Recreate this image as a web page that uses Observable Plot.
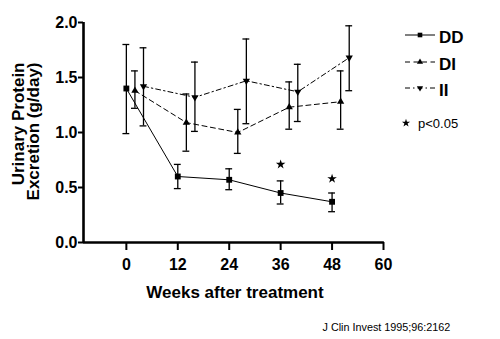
<!DOCTYPE html>
<html><head><meta charset="utf-8">
<script src="https://cdn.jsdelivr.net/npm/d3@7"></script>
<script src="https://cdn.jsdelivr.net/npm/@observablehq/plot@0.6"></script>
<style>
html,body{margin:0;padding:0;background:#fff;}
#chart svg{display:block;}
</style></head><body><div id="chart"></div>
<script>
// ---- data ----
const weeks = [0, 12, 24, 36, 48];
const ddMean = [1.40, 0.60, 0.57, 0.45, 0.37];
const ddLow  = [0.99, 0.49, 0.48, 0.35, 0.28];
const ddHigh = [1.80, 0.71, 0.67, 0.56, 0.45];
const diMean = [1.38, 1.09, 1.00, 1.23, 1.28];
const diLow  = [1.22, 0.83, 0.81, 1.03, 1.03];
const diHigh = [1.56, 1.35, 1.21, 1.46, 1.56];
const iiMean = [1.42, 1.32, 1.47, 1.37, 1.68];
const iiLow  = [1.06, 1.01, 1.08, 1.10, 1.38];
const iiHigh = [1.77, 1.64, 1.85, 1.62, 1.97];
const starWeeks = [36, 48];
const starValues = [0.71, 0.58];
const seriesNames = ["DD", "DI", "II"];
const sigLabel = "p<0.05";
const xTicks = [0, 12, 24, 36, 48, 60];
const yTicks = [0, 0.5, 1.0, 1.5, 2.0];
const xTitle = "Weeks after treatment";
const yTitle = "Urinary Protein\nExcretion (g/day)";
const caption = "J Clin Invest 1995;96:2162";

// ---- styling ----
const FONT = "'Liberation Sans', Arial, Helvetica, sans-serif";
const triDown = {
  draw(ctx, size) {
    const s3 = Math.sqrt(3);
    const y = -Math.sqrt(size / (s3 * 3));
    ctx.moveTo(0, -y * 2);
    ctx.lineTo(-s3 * y, y);
    ctx.lineTo(s3 * y, y);
    ctx.closePath();
  }
};
const style = {
  DD: {offset: 0, dash: null, symbol: "square", r: 3.3, lr: 2.6},
  DI: {offset: 2, dash: "5,3.5", symbol: "triangle", r: 2.7, lr: 2.3},
  II: {offset: 4, dash: "5,3,1.5,3", symbol: triDown, r: 2.7, lr: 2.3}
};
const sources = {
  DD: [ddMean, ddLow, ddHigh],
  DI: [diMean, diLow, diHigh],
  II: [iiMean, iiLow, iiHigh]
};
const rows = seriesNames.flatMap(name => {
  const [m, lo, hi] = sources[name];
  return weeks.map((w, i) => ({series: name, week: w + style[name].offset, mean: m[i], lo: lo[i], hi: hi[i]}));
});
const stars = starWeeks.map((w, i) => ({week: w, value: starValues[i]}));
const capHalf = 0.8;

const marks = [];
// error bars
marks.push(Plot.ruleX(rows, {x: "week", y1: "lo", y2: "hi", stroke: "black", strokeWidth: 1.3}));
marks.push(Plot.ruleY(rows, {y: "lo", x1: d => d.week - capHalf, x2: d => d.week + capHalf, stroke: "black", strokeWidth: 1.3}));
marks.push(Plot.ruleY(rows, {y: "hi", x1: d => d.week - capHalf, x2: d => d.week + capHalf, stroke: "black", strokeWidth: 1.3}));
// lines + markers
for (const name of seriesNames) {
  const data = rows.filter(d => d.series === name);
  marks.push(Plot.line(data, {x: "week", y: "mean", stroke: "black", strokeWidth: 1, strokeDasharray: style[name].dash}));
  marks.push(Plot.dot(data, {x: "week", y: "mean", symbol: () => style[name].symbol, r: style[name].r, fill: "black", stroke: "none"}));
}
// significance stars
marks.push(Plot.dot(stars, {x: "week", y: "value", symbol: () => "star", r: 3, fill: "black", stroke: "none"}));
// axes
marks.push(Plot.axisX({ticks: xTicks, tickSize: 8, tickPadding: 8.5, strokeWidth: 2, fontSize: 16, fontWeight: "bold", label: null}));
marks.push(Plot.axisY({ticks: yTicks, tickFormat: d3.format(".1f"), tickSize: 5, tickPadding: 1, strokeWidth: 2, fontSize: 16, fontWeight: "bold", label: null}));
marks.push(Plot.ruleX([-10], {y1: 0, y2: 2, stroke: "black", strokeWidth: 2.6}));
marks.push(Plot.ruleY([0], {x1: -10, x2: 60.2, stroke: "black", strokeWidth: 2.6}));
// titles
marks.push(Plot.text([xTitle], {frameAnchor: "bottom", lineAnchor: "bottom", dx: 1.5, dy: 55, fontSize: 17, fontWeight: "bold", fill: "black"}));
marks.push(Plot.text([yTitle], {frameAnchor: "left", rotate: -90, textAnchor: "end", lineAnchor: "middle", lineHeight: 0.92, dx: -57, dy: -70, fontSize: 17, fontWeight: "bold", fill: "black"}));
marks.push(Plot.text([caption], {frameAnchor: "bottom-left", textAnchor: "start", lineAnchor: "bottom", dx: 239, dy: 88, fontSize: 10.8, fill: "black"}));
// legend
marks.push((index, scales, values, dimensions, context) => {
  const g = d3.create("svg:g").attr("font-family", FONT).attr("text-anchor", "start");
  const ys = [35, 62, 88];
  seriesNames.forEach((name, i) => {
    const st = style[name];
    const y = ys[i];
    g.append("line").attr("x1", 405).attr("x2", 435).attr("y1", y).attr("y2", y)
      .attr("stroke", "black").attr("stroke-width", 1).attr("stroke-dasharray", st.dash);
    const sym = typeof st.symbol === "string" ? {square: d3.symbolSquare, triangle: d3.symbolTriangle}[st.symbol] : st.symbol;
    g.append("path").attr("transform", `translate(420,${y})`)
      .attr("d", d3.symbol(sym, Math.PI * st.lr * st.lr)()).attr("fill", "black");
    g.append("text").attr("x", 439).attr("y", y + 7.5).attr("font-size", 17).attr("font-weight", "bold")
      .attr("text-anchor", "start").attr("fill", "black").text(name);
  });
  g.append("path").attr("transform", "translate(406,123)").attr("d", d3.symbol(d3.symbolStar, Math.PI * 2.6 * 2.6)()).attr("fill", "black");
  g.append("text").attr("x", 418).attr("y", 127.5).attr("font-size", 13).attr("text-anchor", "start")
    .attr("fill", "black").text(sigLabel);
  return g.node();
});

const chart = Plot.plot({
  width: 500,
  height: 339,
  marginLeft: 83,
  marginRight: 117,
  marginTop: 22,
  marginBottom: 97,
  style: {fontFamily: FONT, fontSize: "16px", color: "black", background: "white"},
  x: {domain: [-10, 60]},
  y: {domain: [0, 2]},
  marks
});
document.getElementById("chart").appendChild(chart);
</script>
</body></html>
